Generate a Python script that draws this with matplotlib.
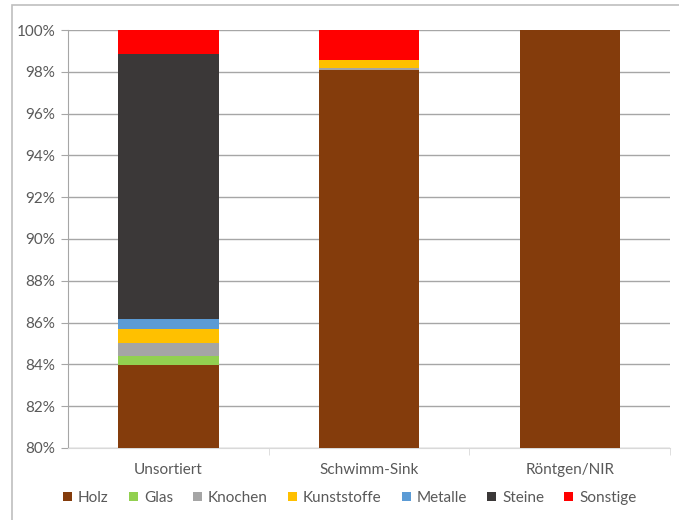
import numpy as np
import matplotlib
matplotlib.use("Agg")
import matplotlib.pyplot as plt
from matplotlib.patches import Rectangle
from matplotlib.ticker import FuncFormatter, FixedLocator

plt.rcParams['font.family'] = ['Lato', 'DejaVu Sans']

# Anteile in Prozent, je Sortierverfahren
categories = ["Unsortiert", "Schwimm-Sink", "Röntgen/NIR"]
materials = ["Holz", "Glas", "Knochen", "Kunststoffe", "Metalle", "Steine", "Sonstige"]
holz = [83.97, 98.09, 100.0]
glas = [0.43, 0.0, 0.0]
knochen = [0.61, 0.08, 0.0]
kunststoffe = [0.70, 0.39, 0.0]
metalle = [0.46, 0.0, 0.0]
steine = [12.67, 0.0, 0.0]
sonstige = [1.16, 1.44, 0.0]
colors = ["#843C0C", "#92D050", "#A5A5A5", "#FFC000", "#5B9BD5", "#3B3838", "#FF0000"]

series = [holz, glas, knochen, kunststoffe, metalle, steine, sonstige]

fig = plt.figure(figsize=(6.79, 5.2), dpi=100)
# outer chart frame like in the spreadsheet export
fig.patches.append(Rectangle((12 / 679, -0.1), 1.2, (520 - 5) / 520 + 0.1,
                             transform=fig.transFigure, fill=False,
                             edgecolor="#BFBFBF", linewidth=1.2))

ax = fig.add_axes([68 / 679, 1 - 448 / 520, (670 - 68) / 679, (448 - 30) / 520])

x = np.arange(len(categories))
bottom = np.zeros(len(categories))
for name, vals, col in zip(materials, series, colors):
    vals = np.array(vals)
    ax.bar(x, vals, bottom=bottom, width=0.5, color=col, label=name, zorder=3)
    bottom += vals

ax.set_ylim(80, 100)
ax.set_xlim(-0.5, 2.5)
ax.set_yticks(np.arange(80, 101, 2))
ax.yaxis.set_major_formatter(FuncFormatter(lambda v, p: f"{v:.0f}%"))
ax.grid(axis="y", color="#A6A6A6", linewidth=1.0, zorder=0)

ax.set_xticks(x)
ax.set_xticklabels(categories)
ax.xaxis.set_minor_locator(FixedLocator([0.5, 1.5, 2.5]))
ax.tick_params(axis="x", which="major", length=0, pad=11, labelsize=11, labelcolor="#595959")
ax.tick_params(axis="x", which="minor", length=5, color="#D9D9D9")
ax.tick_params(axis="y", length=5, color="#A6A6A6", labelsize=11, labelcolor="#595959", pad=4)

for s in ["top", "right"]:
    ax.spines[s].set_visible(False)
ax.spines["left"].set_color("#A6A6A6")
ax.spines["bottom"].set_color("#D9D9D9")

leg = fig.legend(loc="center", bbox_to_anchor=(0.515, 1 - 498 / 520), ncol=7,
                 frameon=False, fontsize=11, handlelength=0.6, handleheight=0.6,
                 handletextpad=0.4, columnspacing=1.3)
for t in leg.get_texts():
    t.set_color("#595959")

fig.savefig("out.png", dpi=100)
